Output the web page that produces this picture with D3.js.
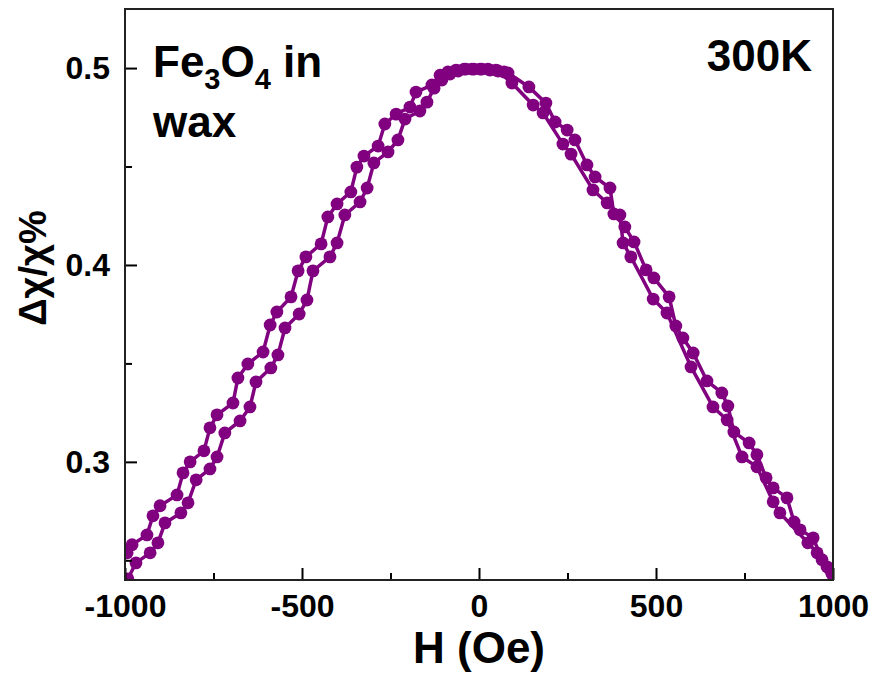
<!DOCTYPE html>
<html>
<head>
<meta charset="utf-8">
<script src="https://cdn.jsdelivr.net/npm/d3@7"></script>
<style>
  html, body { margin: 0; padding: 0; background: #fff; }
  svg text { font-family: "Liberation Sans", Arial, Helvetica, sans-serif; font-weight: bold; fill: #000; }
</style>
</head>
<body>
<svg id="chart" width="876" height="673"></svg>
<script>
// ---- data (H in Oe, Δχ/χ in %) ----
const hBranchA = [-994,-980,-938,-921,-901,-853,-836,-816,-777,-760,-740,-695,-681,-653,-610,-590,-571,-531,-511,-489,-446,-427,-401,-362,-345,-325,-285,-266,-234,-195,-178,-133,-110,-88,-65,-42,-20,3,25,48,71,82,141,189,215,249,271,305,328,370,381,412,438,472,494,537,556,576,605,644,686,703,720,763,785,811,831,870,890,907,944,969,992];
const chiBranchA = [0.2538,0.2579,0.2629,0.2726,0.2777,0.2832,0.2944,0.3000,0.3056,0.3173,0.3239,0.3299,0.3426,0.3497,0.3558,0.3695,0.3761,0.3838,0.3970,0.4041,0.4107,0.4244,0.4310,0.4371,0.4497,0.4553,0.4604,0.4716,0.4766,0.4802,0.4878,0.4914,0.4964,0.4980,0.4990,0.4995,0.4995,0.4995,0.4995,0.4990,0.4980,0.4975,0.4904,0.4822,0.4726,0.4685,0.4635,0.4508,0.4447,0.4391,0.4259,0.4193,0.4117,0.3975,0.3934,0.3838,0.3690,0.3629,0.3553,0.3411,0.3350,0.3284,0.3152,0.3096,0.3036,0.2919,0.2868,0.2817,0.2695,0.2655,0.2614,0.2503,0.2452];
const hBranchB = [-992,-969,-929,-907,-887,-842,-822,-799,-760,-740,-718,-675,-647,-630,-588,-568,-548,-508,-486,-469,-421,-401,-379,-336,-316,-297,-257,-229,-209,-167,-147,-127,-105,-82,-59,-37,-14,8,31,54,93,153,181,237,260,322,362,398,407,429,492,531,599,661,701,743,785,831,850,929,955,983,997];
const chiBranchB = [0.2406,0.2487,0.2538,0.2589,0.2690,0.2741,0.2792,0.2909,0.2964,0.3025,0.3147,0.3208,0.3279,0.3406,0.3477,0.3543,0.3680,0.3751,0.3822,0.3970,0.4041,0.4112,0.4254,0.4320,0.4391,0.4518,0.4574,0.4635,0.4741,0.4782,0.4827,0.4898,0.4939,0.4970,0.4985,0.4995,0.4995,0.4995,0.4990,0.4985,0.4924,0.4812,0.4772,0.4614,0.4563,0.4381,0.4315,0.4254,0.4112,0.4041,0.3827,0.3756,0.3482,0.3279,0.3213,0.3025,0.2975,0.2797,0.2741,0.2589,0.2538,0.2467,0.2431];
const xMajorTicks = [-1000,-500,0,500,1000];
const xMinorTicks = [-750,-250,250,750];
const yMajorTicks = [0.3,0.4,0.5];
const yMinorTicks = [0.25,0.35,0.45];
const xTitle = "H (Oe)";
const yTitle = "Δχ/χ%";
const temperatureLabel = "300K";

// ---- layout ----
const mLeft = 125, mRight = 833, mTop = 9, mBottom = 580;
const color = "#800080";

const svg = d3.select("#chart");
const x = d3.scaleLinear().domain([-1000, 1000]).range([mLeft, mRight]);
const y = d3.scaleLinear().domain([0.24, 0.53]).range([mBottom, mTop]);

svg.append("defs").append("clipPath").attr("id", "plotclip")
  .append("rect").attr("x", mLeft).attr("y", mTop).attr("width", mRight - mLeft).attr("height", mBottom - mTop);

const branches = [
  d3.zip(hBranchA, chiBranchA),
  d3.zip(hBranchB, chiBranchB)
];

const plot = svg.append("g").attr("clip-path", "url(#plotclip)");
const line = d3.line().x(d => x(d[0])).y(d => y(d[1]));
branches.forEach(b => {
  plot.append("path").datum(b).attr("d", line)
    .attr("fill", "none").attr("stroke", color).attr("stroke-width", 3.5);
});
branches.forEach(b => {
  plot.selectAll(null).data(b).enter().append("circle")
    .attr("cx", d => x(d[0])).attr("cy", d => y(d[1])).attr("r", 6.4)
    .attr("fill", color);
});

// ---- axes ----
const xAxis = svg.append("g").attr("transform", `translate(0,${mBottom})`)
  .call(d3.axisBottom(x).tickValues(xMajorTicks).tickFormat(d => String(d)).tickSize(-12).tickPadding(14));
svg.append("g").attr("transform", `translate(0,${mBottom})`)
  .call(d3.axisBottom(x).tickValues(xMinorTicks).tickFormat("").tickSize(-7));
const yAxis = svg.append("g").attr("transform", `translate(${mLeft},0)`)
  .call(d3.axisLeft(y).tickValues(yMajorTicks).tickFormat(d3.format(".1f")).tickSize(-12).tickPadding(15));
svg.append("g").attr("transform", `translate(${mLeft},0)`)
  .call(d3.axisLeft(y).tickValues(yMinorTicks).tickFormat("").tickSize(-7));

svg.selectAll(".domain").remove();
svg.selectAll(".tick line").attr("stroke", "#000").attr("stroke-width", 2);
svg.selectAll(".tick text").attr("font-size", 32).style("font-family", '"Liberation Sans", Arial, sans-serif').style("font-weight", "bold").attr("fill", "#000");
xAxis.selectAll(".tick text").attr("text-anchor", "middle");

// frame
svg.append("rect").attr("x", mLeft).attr("y", mTop).attr("width", mRight - mLeft).attr("height", mBottom - mTop)
  .attr("fill", "none").attr("stroke", "#222").attr("stroke-width", 2);

// ---- titles ----
svg.append("text").attr("x", (mLeft + mRight) / 2).attr("y", 663).attr("text-anchor", "middle")
  .attr("font-size", 44).text(xTitle);

svg.append("text").attr("transform", `translate(46,268) rotate(-90)`)
  .attr("text-anchor", "middle").attr("font-size", 38).text(yTitle);

const ann = svg.append("text").attr("x", 153).attr("y", 77).attr("font-size", 44);
ann.append("tspan").text("Fe");
ann.append("tspan").attr("font-size", 29).attr("dy", 12).text("3");
ann.append("tspan").attr("dy", -12).text("O");
ann.append("tspan").attr("font-size", 29).attr("dy", 12).text("4");
ann.append("tspan").attr("dy", -12).text(" in");
svg.append("text").attr("x", 153).attr("y", 137).attr("font-size", 44).text("wax");

svg.append("text").attr("x", 812).attr("y", 71).attr("text-anchor", "end").attr("font-size", 44).text(temperatureLabel);
</script>
</body>
</html>
